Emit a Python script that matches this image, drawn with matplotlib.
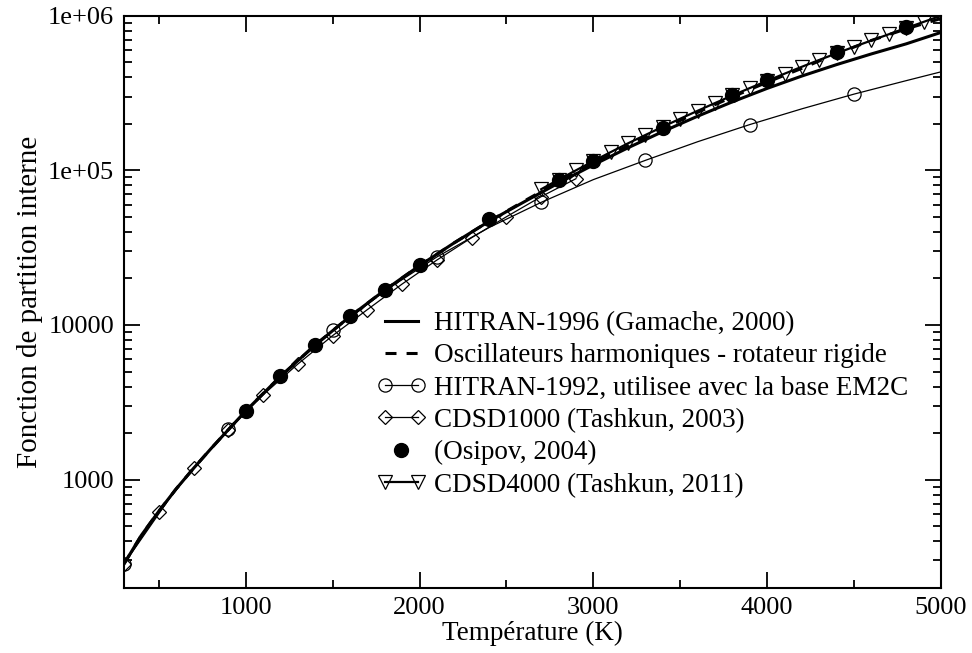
import matplotlib
matplotlib.use("Agg")
import matplotlib.pyplot as plt
from matplotlib.lines import Line2D
from matplotlib.legend_handler import HandlerLine2D
from matplotlib.ticker import FixedLocator, MultipleLocator, NullFormatter, FixedFormatter

# ---------------- data ----------------
T_hitran1996 = [300, 400, 500, 600, 700, 800, 900, 1000, 1200, 1400, 1600, 1800, 2000,
                2200, 2400, 2600, 2800, 3000, 3200, 3400, 3600, 3800, 4000, 4200, 4400,
                4600, 4800, 5000]
q_hitran1996 = [285, 437, 624, 871, 1183, 1585, 2100, 2780, 4650, 7420, 11350, 16800, 24200,
                34000, 46800, 62370, 82800, 108400, 140000, 178200, 223900, 277300, 338800,
                407400, 483000, 566200, 657700, 779800]

T_harmonic = T_hitran1996
q_harmonic = [285, 437, 624, 871, 1183, 1585, 2100, 2780, 4650, 7420, 11350, 16800, 24200,
              34000, 46800, 63100, 84140, 110900, 144500, 186200, 237100, 298500, 371500,
              457100, 568900, 691800, 822200, 959400]

T_hitran1992 = [300, 600, 900, 1200, 1500, 1800, 2100, 2400, 2700, 3000, 3300, 3600, 3900,
                4200, 4500, 4800, 5000]
q_hitran1992 = [285, 871, 2113, 4656, 9226, 16600, 27540, 42660, 62090, 87100, 116100,
                153100, 197700, 250000, 311200, 380200, 433500]

T_cdsd1000 = [300, 500, 700, 900, 1100, 1300, 1500, 1700, 1900, 2100, 2300, 2500, 2700, 2900]
q_cdsd1000 = [285, 620, 1183, 2090, 3530, 5590, 8530, 12570, 18400, 26300, 36700, 50100,
              67600, 88300]

T_osipov = [1000, 1200, 1400, 1600, 1800, 2000, 2400, 2800, 3000, 3400, 3800, 4000, 4400, 4800]
q_osipov = [2790, 4660, 7450, 11400, 16900, 24400, 48100, 86800, 114400, 188500, 306000,
            383000, 582000, 845000]

T_cdsd4000 = [2700, 2800, 2900, 3000, 3100, 3200, 3300, 3400, 3500, 3600, 3700, 3800,
              3900, 4000, 4100, 4200, 4300, 4400, 4500, 4600, 4700, 4800, 4900, 5000]
q_cdsd4000 = [75510, 87100, 100000, 114800, 131200, 149600, 169400, 191400, 215800,
              242700, 272300, 304800, 340400, 379300, 421700, 467700, 517600, 571500, 629500,
              691800, 758600, 831800, 912000, 1000000]

labels = ["HITRAN-1996 (Gamache, 2000)",
          "Oscillateurs harmoniques - rotateur rigide",
          "HITRAN-1992, utilisee avec la base EM2C",
          "CDSD1000 (Tashkun, 2003)",
          "(Osipov, 2004)",
          "CDSD4000 (Tashkun, 2011)"]

y_ticks = [1e3, 1e4, 1e5, 1e6]
y_ticklabels = ["1000", "10000", "1e+05", "1e+06"]
x_ticks = [1000, 2000, 3000, 4000, 5000]

# ---------------- figure ----------------
plt.rcParams['font.family'] = ['Liberation Serif', 'DejaVu Serif']
FS_TICK = 19
FS_LEG = 19.5
FS_XLAB = 19.5
FS_YLAB = 21

fig = plt.figure(figsize=(9.72, 6.53), dpi=100)
ax = fig.add_axes([124/972, 1-587.7/653, (941-124)/972, (587.7-15.7)/653])

l1, = ax.plot(T_hitran1996, q_hitran1996, color='black', lw=2.2, zorder=3, label=labels[0])
l2, = ax.plot(T_harmonic, q_harmonic, color='black', lw=2.2, dashes=(3.6, 3.3), zorder=3,
              label=labels[1])
l3, = ax.plot(T_hitran1992, q_hitran1992, color='black', lw=0.9, marker='o', ms=9.5,
              mfc='none', mec='black', mew=0.9, markevery=list(range(0, 15, 2)), zorder=4,
              label=labels[2])
l4, = ax.plot(T_cdsd1000, q_cdsd1000, color='black', lw=0.9, marker='D', ms=7.4,
              mfc='none', mec='black', mew=0.9, zorder=4, label=labels[3])
l5, = ax.plot(T_osipov, q_osipov, ls='none', marker='o', ms=10, mfc='black', mec='black',
              zorder=6, label=labels[4])
l6, = ax.plot(T_cdsd4000, q_cdsd4000, color='black', lw=1.6, marker='v', ms=9.5,
              mfc='none', mec='black', mew=0.9, zorder=5, label=labels[5])

ax.set_yscale('log')
ax.set_xlim(300, 5000)
ax.set_ylim(200, 1e6)

ax.xaxis.set_major_locator(FixedLocator(x_ticks))
ax.xaxis.set_minor_locator(MultipleLocator(500))
ax.yaxis.set_major_locator(FixedLocator(y_ticks))
ax.yaxis.set_major_formatter(FixedFormatter(y_ticklabels))
minor_y = [m * 10**e for e in range(2, 6) for m in range(2, 10)]
ax.yaxis.set_minor_locator(FixedLocator(minor_y))
ax.yaxis.set_minor_formatter(NullFormatter())

ax.tick_params(which='both', direction='in', top=True, right=True, labelsize=FS_TICK,
               width=1.3, pad=7)
ax.tick_params(which='major', length=11.5)
ax.tick_params(which='minor', length=5.8)
for s in ax.spines.values():
    s.set_linewidth(1.5)

ax.set_xlabel("Température (K)", fontsize=FS_XLAB, labelpad=1)
ax.set_ylabel("Fonction de partition interne", fontsize=FS_YLAB, labelpad=4)

leg = ax.legend(handles=[l1, l2, l3, l4, l5, l6], loc='upper left',
                bbox_to_anchor=(385/972, 1-311/653), bbox_transform=fig.transFigure,
                frameon=False, fontsize=FS_LEG, handlelength=1.2,
                handletextpad=0.62, labelspacing=0.27, borderpad=0, borderaxespad=0,
                handler_map={Line2D: HandlerLine2D(numpoints=2, marker_pad=0),
                             l5: HandlerLine2D(numpoints=1, marker_pad=0)})

fig.savefig("out.png", dpi=100)
